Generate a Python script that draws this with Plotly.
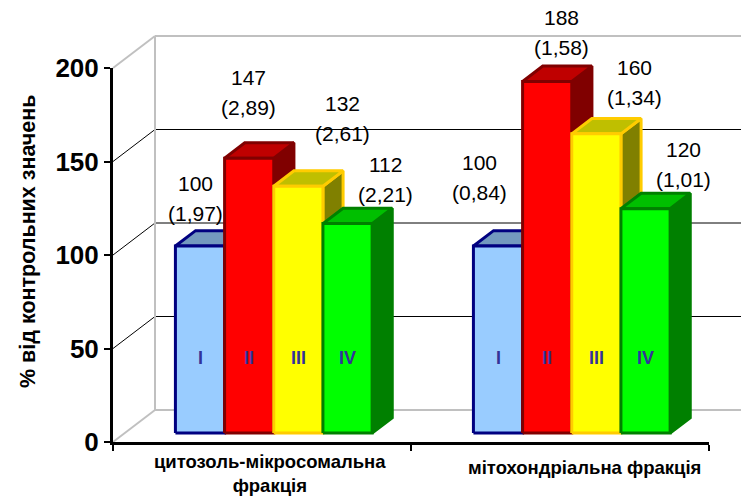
import plotly.graph_objects as go

# ---- data ----
categories = ["цитозоль-мікросомальна<br>фракція", "мітохондріальна фракція"]
series_names = ["I", "II", "III", "IV"]
pct_cytosol = [100, 147, 132, 112]
pct_mito = [100, 188, 160, 120]
abs_cytosol = [1.97, 2.89, 2.61, 2.21]
abs_mito = [0.84, 1.58, 1.34, 1.01]
y_ticks = [0, 50, 100, 150, 200]

pct_values = [pct_cytosol, pct_mito]
abs_values = [abs_cytosol, abs_mito]

# ---- styling ----
FONT = "Liberation Sans, Arial, sans-serif"
front_colors = ["#99CCFF", "#FF0000", "#FFFF00", "#00FF00"]
top_colors = ["#7399BF", "#BF0000", "#BFBF00", "#00BF00"]
side_colors = ["#4C667F", "#800000", "#808000", "#008000"]
edge_colors = ["#000080", "#800000", "#FFCC00", "#008000"]
roman_color = "#333399"
wall_edge = "#C0C0C0"

# ---- projection geometry (pixels) ----
W, H = 741, 496
X0_PX, PX_PER_CAT = 113, 298.0      # front x-axis origin and width of one category
Y0_PX, PX_PER_UNIT = 442, 1.87      # front y-axis origin and pixels per percent
DEPTH_PX = (42, -32)                # offset from front plane to back wall

DX = DEPTH_PX[0] / PX_PER_CAT
DV = -DEPTH_PX[1] / PX_PER_UNIT

BAR_W = 0.165
GROUP_PAD = (1 - 4 * BAR_W) / 2
FD0, FD1 = 0.28, 0.76               # bar front / back depth fractions

x_range = [-X0_PX / PX_PER_CAT, (W - X0_PX) / PX_PER_CAT]
y_range = [-(H - Y0_PX) / PX_PER_UNIT, Y0_PX / PX_PER_UNIT]


def proj(x, v, d):
    return x + d * DX, v + d * DV


fig = go.Figure()

# ---- walls and gridlines ----
shapes = []
x_far = 2.3
for v in y_ticks:
    grey = v in (y_ticks[0], y_ticks[-1])
    col = wall_edge if grey else "#000000"
    wdt = 2 if grey else 1
    xa, ya = proj(0, v, 0)
    xb, yb = proj(0, v, 1)
    shapes.append(dict(type="line", xref="x", yref="y", x0=xa, y0=ya, x1=xb, y1=yb,
                       line=dict(color=col, width=wdt), layer="below"))
    xc, yc = proj(x_far, v, 1)
    shapes.append(dict(type="line", xref="x", yref="y", x0=xb, y0=yb, x1=xc, y1=yc,
                       line=dict(color=col, width=wdt), layer="below"))
xa, ya = proj(0, y_ticks[0], 1)
xb, yb = proj(0, y_ticks[-1], 1)
shapes.append(dict(type="line", xref="x", yref="y", x0=xa, y0=ya, x1=xb, y1=yb,
                   line=dict(color=wall_edge, width=2), layer="below"))


def poly(pts, fill, edge, width=3):
    xs = [p[0] for p in pts] + [pts[0][0]]
    ys = [p[1] for p in pts] + [pts[0][1]]
    fig.add_trace(go.Scatter(x=xs, y=ys, mode="lines", fill="toself", fillcolor=fill,
                             line=dict(color=edge, width=width),
                             hoverinfo="skip", showlegend=False))


annotations = []


def label(**kw):
    kw.setdefault("showarrow", False)
    kw.setdefault("xanchor", "center")
    kw.setdefault("yanchor", "middle")
    annotations.append(kw)


# label placement (pixels) relative to each bar's top front centre
label_offsets = [[(-5, -33), (-1, -51), (44, -53), (38, -29)],
                 [(-19, -54), (14, -34), (38, -36), (38, -29)]]

for c, (vals, abs_list) in enumerate(zip(pct_values, abs_values)):
    for j, v in enumerate(vals):
        x0 = c + GROUP_PAD + j * BAR_W
        x1 = x0 + BAR_W
        side = [proj(x1, 0, FD0), proj(x1, 0, FD1), proj(x1, v, FD1), proj(x1, v, FD0)]
        top = [proj(x0, v, FD0), proj(x1, v, FD0), proj(x1, v, FD1), proj(x0, v, FD1)]
        front = [proj(x0, 0, FD0), proj(x1, 0, FD0), proj(x1, v, FD0), proj(x0, v, FD0)]
        poly(side, side_colors[j], edge_colors[j])
        poly(top, top_colors[j], edge_colors[j])
        poly(front, front_colors[j], edge_colors[j])

        xc, yt = proj((x0 + x1) / 2, v, FD0)
        dx, dy = label_offsets[c][j]
        label(x=xc, y=yt, xref="x", yref="y", text=str(v), xshift=dx, yshift=-dy + 30,
              font=dict(family=FONT, size=21, color="black"))
        label(x=xc, y=yt, xref="x", yref="y",
              text="(" + f"{abs_list[j]:.2f}".replace(".", ",") + ")",
              xshift=dx, yshift=-dy, font=dict(family=FONT, size=21, color="black"))
        xr, yr = proj((x0 + x1) / 2, 40, FD0)
        label(x=xr, y=yr, xref="x", yref="y", text=series_names[j],
              font=dict(family=FONT, size=18, color=roman_color, weight="bold"))

# category labels under the front axis
cat_label_px = [(270, 473), (584, 467)]
for c, name in enumerate(categories):
    px, py = cat_label_px[c]
    label(x=px / W, y=1 - py / H, xref="paper", yref="paper", text=name,
          font=dict(family=FONT, size=18.5, color="black", weight="bold"))

# axis title
label(x=28 / W, y=1 - 241 / H, xref="paper", yref="paper",
      text="% від контрольних значень", textangle=-90,
      font=dict(family=FONT, size=21.5, color="black", weight="bold"))

# front axes carry the tick marks and tick labels
fig.add_trace(go.Scatter(x=[0], y=[0], xaxis="x2", yaxis="y2", mode="markers",
                         marker=dict(opacity=0), hoverinfo="skip", showlegend=False))

y_top_px = Y0_PX - y_ticks[-1] * PX_PER_UNIT
x_end_px = X0_PX + 2 * PX_PER_CAT

fig.update_layout(
    template="none",
    width=W, height=H,
    margin=dict(l=0, r=0, t=0, b=0, pad=0),
    paper_bgcolor="white", plot_bgcolor="rgba(0,0,0,0)",
    showlegend=False,
    xaxis=dict(range=x_range, visible=False, domain=[0, 1], automargin=False),
    yaxis=dict(range=y_range, visible=False, domain=[0, 1], automargin=False),
    xaxis2=dict(range=[0, 2], domain=[X0_PX / W, x_end_px / W], anchor="y2",
                tickvals=[0, 1, 2], showticklabels=False, ticks="outside", ticklen=6,
                tickwidth=2, tickcolor="black", showline=True, linewidth=3,
                linecolor="black", showgrid=False, zeroline=False, automargin=False),
    yaxis2=dict(range=[y_ticks[0], y_ticks[-1]],
                domain=[(H - Y0_PX) / H, (H - y_top_px) / H], anchor="x2",
                tickvals=y_ticks, ticks="outside", ticklen=6, tickwidth=2,
                tickcolor="black", showline=True, linewidth=3, linecolor="black",
                showgrid=False, zeroline=False, automargin=False,
                tickfont=dict(family=FONT, size=26, color="black", weight="bold")),
    shapes=shapes,
    annotations=annotations,
)

fig.write_html("out.html")
